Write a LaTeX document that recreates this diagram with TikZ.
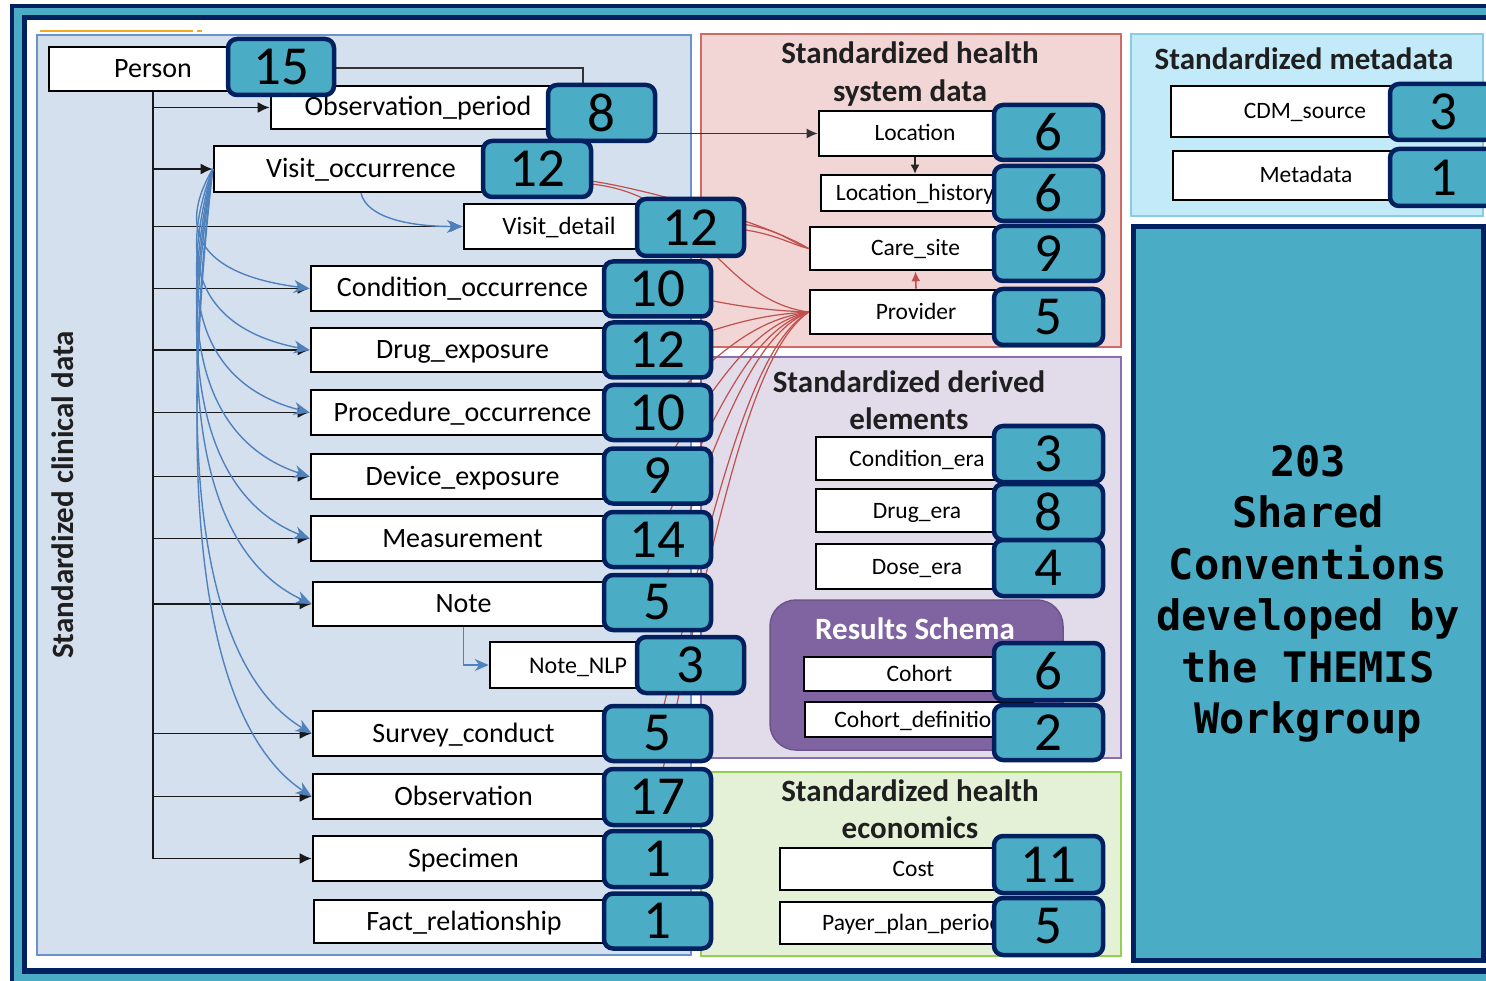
\documentclass[tikz,border=0pt]{standalone}
\usepackage{fontspec}
\setmainfont{Carlito}
\newfontfamily\convfont{DejaVu Sans Mono}
\usetikzlibrary{arrows.meta}
\definecolor{navy}{HTML}{002060}
\definecolor{badgeteal}{HTML}{4BACC6}
\definecolor{clinfill}{HTML}{D5E0EF}
\definecolor{clinline}{HTML}{6A93CC}
\definecolor{sysfill}{HTML}{F2D5D5}
\definecolor{sysline}{HTML}{D06A66}
\definecolor{metafill}{HTML}{C2EAF8}
\definecolor{metaline}{HTML}{86CDE3}
\definecolor{derfill}{HTML}{E1DBEA}
\definecolor{derline}{HTML}{8A6FB0}
\definecolor{ecofill}{HTML}{E4F1D7}
\definecolor{ecoline}{HTML}{92D050}
\definecolor{resfill}{HTML}{8064A2}
\definecolor{linkblue}{HTML}{4F81BD}
\definecolor{linkred}{HTML}{C0504D}
\definecolor{accent}{HTML}{F5A623}
\begin{document}
\begin{tikzpicture}[x=1pt,y=-1pt,
  tbl/.style={draw=black, line width=2.6pt, fill=white, inner sep=0pt},
  ltbl/.style={tbl, font=\fontsize{28}{30}\selectfont, text height=20pt, text depth=3pt},
  rtbl/.style={tbl, font=\fontsize{23.5}{26}\selectfont, text height=17pt, text depth=2pt},
  badge/.style={draw=navy, line width=4.5pt, fill=badgeteal, rounded corners=9pt,
    inner sep=0pt, minimum width=107pt, minimum height=55pt,
    font=\fontsize{55}{55}\selectfont},
  title/.style={align=center, text=black!88, font=\bfseries\fontsize{31}{37.5}\selectfont},
  tree/.style={draw=black!90, line width=1.9pt},
  treearr/.style={tree, -{Latex[length=12pt,width=11pt]}},
  bluearr/.style={draw=linkblue, line width=1.4pt, -{Stealth[length=16pt,width=13pt]}},
  redline/.style={draw=linkred, line width=1.2pt},
]
\useasboundingbox (0,0) rectangle (1486,981);
\clip (0,0) rectangle (1486,981);

% frame
\fill[navy] (10,4) rectangle (1600,1100);
\fill[badgeteal] (14,8) rectangle (1600,1100);
\fill[navy] (22,15) rectangle (1600,974);
\fill[white] (27,20) rectangle (1600,968);
\draw[accent, line width=2pt] (40,31) -- (193,31) (197,31) -- (202,31);

% panels
\draw[clinline, fill=clinfill, line width=2.2pt] (37,35) rectangle (691,955);
\draw[sysline, fill=sysfill, line width=2.2pt] (701,34) rectangle (1121,347);
\draw[metaline, fill=metafill, line width=2.2pt] (1131,34) rectangle (1483,216);
\draw[derline, fill=derfill, line width=2.2pt] (701,357) rectangle (1121,758);
\draw[ecoline, fill=ecofill, line width=2.2pt] (701,772) rectangle (1121,956);
\draw[resfill!85!black, fill=resfill, line width=1.5pt, rounded corners=26pt] (770,600) rectangle (1063,750);
\draw[navy, fill=badgeteal, line width=5pt] (1133,227) rectangle (1483,960);

% titles
\node[title, rotate=90] (tclin) at (63,495) {Standardized clinical data};
\node[title] (tsys) at (910,74) {Standardized health\\system data};
\node[title] (tmeta) at (1304,59) {Standardized metadata};
\node[title] (tder) at (909,400) {Standardized derived\\elements};
\node[title] (teco) at (910,809) {Standardized health\\economics};
\node[title, text=white] (tres) at (915,629) {Results Schema};
\node[align=center, font=\convfont\bfseries\fontsize{42}{51.5}\selectfont] (conv) at (1308,594)
  {203\\Shared\\Conventions\\developed by\\the THEMIS\\Workgroup};

% clinical tables
\node[ltbl, minimum width=208pt, minimum height=44pt] (per) at (153,69) {Person};
\node[ltbl, minimum width=294pt, minimum height=43pt] (op) at (418,107.5) {Observation\_period};
\node[ltbl, minimum width=294pt, minimum height=46pt] (vo) at (361,169) {Visit\_occurrence};
\node[ltbl, minimum width=190pt, minimum height=45pt, font=\fontsize{25}{27}\selectfont] (vd) at (559,226.5) {Visit\_detail};
\node[ltbl, minimum width=303pt, minimum height=45pt] (co) at (462.5,288.5) {Condition\_occurrence};
\node[ltbl, minimum width=303pt, minimum height=44pt] (de) at (462.5,350) {Drug\_exposure};
\node[ltbl, minimum width=303pt, minimum height=45pt] (po) at (462.5,412.5) {Procedure\_occurrence};
\node[ltbl, minimum width=303pt, minimum height=45pt] (dx) at (462.5,476.5) {Device\_exposure};
\node[ltbl, minimum width=303pt, minimum height=45pt] (me) at (462.5,538.5) {Measurement};
\node[ltbl, minimum width=301pt, minimum height=44pt] (no) at (463.5,604) {Note};
\node[ltbl, minimum width=176pt, minimum height=46pt, font=\fontsize{24}{26}\selectfont] (nlp) at (578,665) {Note\_NLP};
\node[ltbl, minimum width=301pt, minimum height=45pt] (sc) at (463.5,733.5) {Survey\_conduct};
\node[ltbl, minimum width=301pt, minimum height=45pt] (ob) at (463.5,796.5) {Observation};
\node[ltbl, minimum width=301pt, minimum height=45pt] (sp) at (463.5,858.5) {Specimen};
\node[ltbl, minimum width=300pt, minimum height=43pt] (fr) at (464,921.5) {Fact\_relationship};

% health system tables
\node[rtbl, minimum width=192pt, minimum height=45pt] (loc) at (915,133.5) {Location};
\node[rtbl, minimum width=188pt, minimum height=36pt] (lh) at (915,193) {Location\_history};
\node[rtbl, minimum width=211pt, minimum height=43pt] (cs) at (915.5,248.5) {Care\_site};
\node[rtbl, minimum width=212pt, minimum height=44pt] (prov) at (916,312) {Provider};

% metadata tables
\node[rtbl, minimum width=268pt, minimum height=51pt] (cdm) at (1305,111.5) {CDM\_source};
\node[rtbl, minimum width=266pt, minimum height=49pt] (mdt) at (1306,175.5) {Metadata};

% derived tables
\node[rtbl, minimum width=202pt, minimum height=43pt] (ce) at (917,458.5) {Condition\_era};
\node[rtbl, minimum width=202pt, minimum height=43pt] (dre) at (917,510.5) {Drug\_era};
\node[rtbl, minimum width=202pt, minimum height=45pt] (doe) at (917,566.5) {Dose\_era};
\node[rtbl, minimum width=231pt, minimum height=34pt] (coh) at (919.5,674) {Cohort};
\node[rtbl, minimum width=228pt, minimum height=35pt] (cohd) at (919,719.5) {Cohort\_definition};

% economics tables
\node[rtbl, minimum width=267pt, minimum height=42pt] (cost) at (913.5,869) {Cost};
\node[rtbl, minimum width=264pt, minimum height=42pt] (ppp) at (912,923) {Payer\_plan\_period};

% person links
\draw[tree] (per.south) -- (per.south |- sp.west);
\foreach \t in {op,vo,vd,co,de,po,dx,me,no,sc,ob,sp}
  \draw[treearr] (per.south |- \t.west) -- (\t.west);
\coordinate (pbend) at (583,100);
\draw[draw=black!80, line width=1.5pt, -{Latex[length=11pt,width=10pt]}]
  (334,68) -| (pbend) |- (loc.west);
\draw[draw=black!85, line width=1.4pt, -{Latex[length=9pt,width=9pt]}] (loc.south) -- (lh.north);

% visit links
\draw[bluearr] (vo.south) .. controls +(6,24) and +(-55,0) .. (vd.west);
\foreach \t/\d in {co/119.5,de/181,po/243.5,dx/307.5,me/369.5,no/435,sc/564.5,ob/627.5}
  \draw[bluearr] (vo.west) .. controls +(-42,{0.6*\d}) and +(-95,{-0.1*\d}) .. (\t.west);
\draw[bluearr, -{Stealth[length=14pt,width=12pt]}] (no.south) |- (nlp.west);

% provider and care site links, running under the badges
\draw[redline] (591,181) .. controls (640,188) and (760,220) .. (cs.west);
\draw[redline] (591,184) .. controls (700,195) and (720,300) .. (prov.west);
\draw[redline] (700,221) .. controls (775,222) and (785,240) .. (cs.west);
\draw[redline] (700,226) .. controls (770,228) and (785,243) .. (cs.west);
\foreach \y in {289,350,412.5,476,539.5,602.5,733.5,797}
  \draw[redline] (prov.west) .. controls +(-55,{0.08*(\y-312)}) and +(62,{-0.6*(\y-312)}) .. (657,\y);
\draw[linkred, line width=1.6pt, -{Latex[length=10pt,width=9pt]}] (prov.north) -- (cs.south);

% badges
\node[badge, minimum width=106pt, minimum height=56pt] (b15) at (281,67) {15};
\node[badge, minimum height=56pt] (bop) at (601.5,113) {8};
\node[badge, minimum width=108pt, minimum height=56pt] (bvo) at (537,169) {12};
\node[badge, minimum height=57pt] (bvd) at (690.5,227.5) {12};
\node[badge] (bco) at (657.5,289) {10};
\node[badge] (bde) at (657.5,350) {12};
\node[badge] (bpo) at (657.5,412.5) {10};
\node[badge] (bdx) at (657.5,476) {9};
\node[badge] (bme) at (657.5,539.5) {14};
\node[badge] (bno) at (657.5,602.5) {5};
\node[badge, minimum height=56pt] (bnlp) at (690.5,665) {3};
\node[badge] (bsc) at (657.5,733.5) {5};
\node[badge, minimum height=56pt] (bob) at (657.5,797) {17};
\node[badge, minimum height=56pt] (bsp) at (657.5,859) {1};
\node[badge] (bfr) at (657.5,921) {1};

\node[badge, minimum width=109pt] (bloc) at (1048.5,132.5) {6};
\node[badge, minimum width=109pt] (blh) at (1048.5,193.5) {6};
\node[badge, minimum width=109pt] (bcs) at (1048.5,253.5) {9};
\node[badge, minimum width=109pt, minimum height=56pt] (bprov) at (1048.5,317) {5};
\node[badge, minimum width=106pt, minimum height=56pt] (bcdm) at (1443,112) {3};
\node[badge, minimum width=106pt, minimum height=57pt] (bmdt) at (1443,177.5) {1};
\node[badge, minimum width=109pt, minimum height=56pt] (bce) at (1048.5,454) {3};
\node[badge, minimum width=109pt, minimum height=56pt] (bdre) at (1048.5,512) {8};
\node[badge, minimum width=109pt, minimum height=56pt] (bdoe) at (1048.5,568) {4};
\node[badge, minimum width=109pt, minimum height=57pt] (bcoh) at (1048.5,671.5) {6};
\node[badge, minimum width=109pt] (bcohd) at (1048.5,732.5) {2};
\node[badge, minimum width=109pt, minimum height=57pt] (bcost) at (1048.5,864.5) {11};
\node[badge, minimum width=109pt, minimum height=57pt] (bppp) at (1048.5,926.5) {5};
\end{tikzpicture}
\end{document}
